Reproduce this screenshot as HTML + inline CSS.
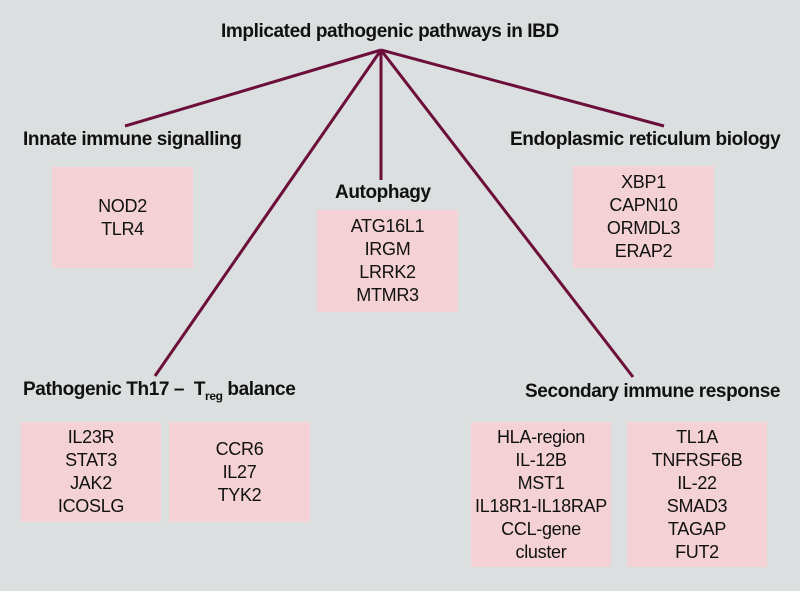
<!DOCTYPE html>
<html><head><meta charset="utf-8"><style>
body{margin:0;width:800px;height:591px;background:#dcdfdf;position:relative;overflow:hidden;font-family:"Liberation Sans",sans-serif;color:#111}
.l{position:absolute;font-weight:bold;font-size:19px;line-height:22px;white-space:nowrap;letter-spacing:-0.4px}
.b{position:absolute;background:#f3d1d4;text-align:center;font-size:18px;line-height:23px;letter-spacing:-0.3px;display:flex;flex-direction:column;justify-content:center}
</style></head><body>
<svg width="800" height="591" style="position:absolute;left:0;top:0">
<g stroke="#6b0f3a" stroke-width="3" fill="none">
<line x1="381" y1="50" x2="125" y2="126"/>
<line x1="381" y1="50" x2="381" y2="180"/>
<line x1="381" y1="50" x2="664" y2="126"/>
<line x1="381" y1="50" x2="155" y2="376"/>
<line x1="381" y1="50" x2="633" y2="377"/>
</g></svg>
<div class="l" style="left:221px;top:21px">Implicated pathogenic pathways in IBD</div>
<div class="l" style="left:23px;top:129px">Innate immune signalling</div>
<div class="l" style="left:510px;top:129px">Endoplasmic reticulum biology</div>
<div class="l" style="left:335px;top:182px">Autophagy</div>
<div class="l" style="left:23px;top:379px">Pathogenic Th17 –&nbsp; T<sub style="font-size:12px">reg</sub> balance</div>
<div class="l" style="left:525px;top:381px">Secondary immune response</div>
<div class="b" style="left:52px;top:167px;width:141px;height:101px">NOD2<br>TLR4</div>
<div class="b" style="left:317px;top:210px;width:141px;height:102px">ATG16L1<br>IRGM<br>LRRK2<br>MTMR3</div>
<div class="b" style="left:573px;top:166px;width:141px;height:102px">XBP1<br>CAPN10<br>ORMDL3<br>ERAP2</div>
<div class="b" style="left:21px;top:422px;width:140px;height:100px">IL23R<br>STAT3<br>JAK2<br>ICOSLG</div>
<div class="b" style="left:169px;top:422px;width:141px;height:100px">CCR6<br>IL27<br>TYK2</div>
<div class="b" style="left:471px;top:422px;width:140px;height:145px">HLA-region<br>IL-12B<br>MST1<br>IL18R1-IL18RAP<br>CCL-gene<br>cluster</div>
<div class="b" style="left:627px;top:422px;width:140px;height:145px">TL1A<br>TNFRSF6B<br>IL-22<br>SMAD3<br>TAGAP<br>FUT2</div>
</body></html>
